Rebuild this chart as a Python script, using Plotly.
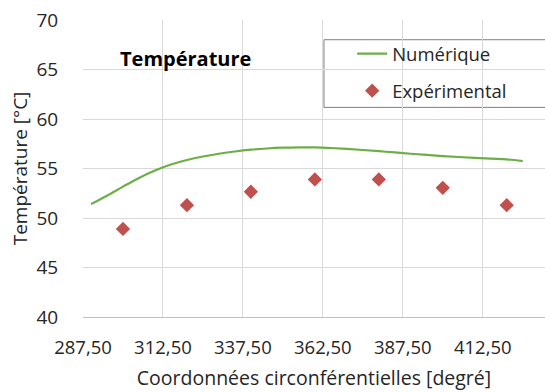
import plotly.graph_objects as go

# Numerical (line) series
num_x = [290, 295, 300, 305, 310, 315, 320, 325, 330, 335, 340, 345, 350, 355,
         360, 365, 370, 375, 380, 385, 390, 395, 400, 405, 410, 415, 420, 425]
num_y = [51.4, 52.25, 53.17, 54.05, 54.8, 55.4, 55.86, 56.21, 56.49, 56.72, 56.9,
         57.02, 57.1, 57.14, 57.13, 57.07, 56.98, 56.87, 56.75, 56.62, 56.49,
         56.37, 56.26, 56.16, 56.07, 55.99, 55.92, 55.75]

# Experimental (markers) series
exp_x = [300, 320, 340, 360, 380, 400, 420]
exp_y = [48.9, 51.3, 52.65, 53.9, 53.9, 53.05, 51.3]

x_ticks = [287.5, 312.5, 337.5, 362.5, 387.5, 412.5]
y_ticks = [40, 45, 50, 55, 60, 65, 70]

FONT = "Open Sans"
TXT = "#262626"

fig = go.Figure()
fig.add_trace(go.Scatter(
    x=num_x, y=num_y, mode="lines", name="Numérique",
    line=dict(color="#6DAE46", width=2.2, shape="spline"),
    legendgroup="a"))
fig.add_trace(go.Scatter(
    x=exp_x, y=exp_y, mode="markers", name="Expérimental",
    marker=dict(symbol="diamond", color="#C0504D", size=11),
    legendgroup="b"))

# legend frame (extends past the right edge) and title box
fig.add_shape(type="rect", xref="paper", yref="paper",
              x0=0.5216, x1=1.05, y0=0.7058, y1=0.9336,
              line=dict(color="#7f7f7f", width=1), fillcolor="white", layer="below")
fig.add_shape(type="rect", xref="paper", yref="paper",
              x0=0.0498, x1=0.42, y0=0.791, y1=0.95,
              line=dict(width=0), fillcolor="white", layer="below")
fig.add_annotation(text="<b>Température</b>", xref="paper", yref="paper",
                   x=0.222, y=0.872, xanchor="center", yanchor="middle",
                   showarrow=False,
                   font=dict(family=FONT, size=20, color="#000000"))

fig.update_layout(
    width=545, height=392,
    margin=dict(l=83, r=0, t=20, b=75),
    paper_bgcolor="white", plot_bgcolor="white",
    separators=", ",
    font=dict(family=FONT, size=18, color=TXT),
    legend=dict(x=0.5826, y=0.949, xanchor="left", yanchor="top",
                bgcolor="rgba(0,0,0,0)", borderwidth=0,
                font=dict(family=FONT, size=18.5, color=TXT),
                traceorder="grouped", tracegroupgap=10),
    xaxis=dict(range=[287.5, 431.97], tickvals=x_ticks, tickformat=".2f",
               automargin=False,
               showgrid=True, gridcolor="#d9d9d9", gridwidth=1,
               showline=True, linecolor="#bfbfbf", linewidth=1,
               zeroline=False, ticks="outside", ticklen=14, tickcolor="rgba(0,0,0,0)",
               tickfont=dict(size=18.5, color=TXT),
               title=dict(text="Coordonnées circonférentielles [degré]",
                          font=dict(size=19.5, color=TXT), standoff=13)),
    yaxis=dict(range=[40, 70], tickvals=y_ticks,
               automargin=False,
               showgrid=True, gridcolor="#d9d9d9", gridwidth=1,
               showline=False, zeroline=False,
               ticks="outside", ticklen=20, tickcolor="rgba(0,0,0,0)",
               tickfont=dict(size=19, color=TXT),
               title=dict(text="Température [°C]", font=dict(size=19, color=TXT),
                          standoff=3)),
)

fig.write_html("out.html",
               config={"displayModeBar": False},
               post_script="document.body.style.margin='0px';")
